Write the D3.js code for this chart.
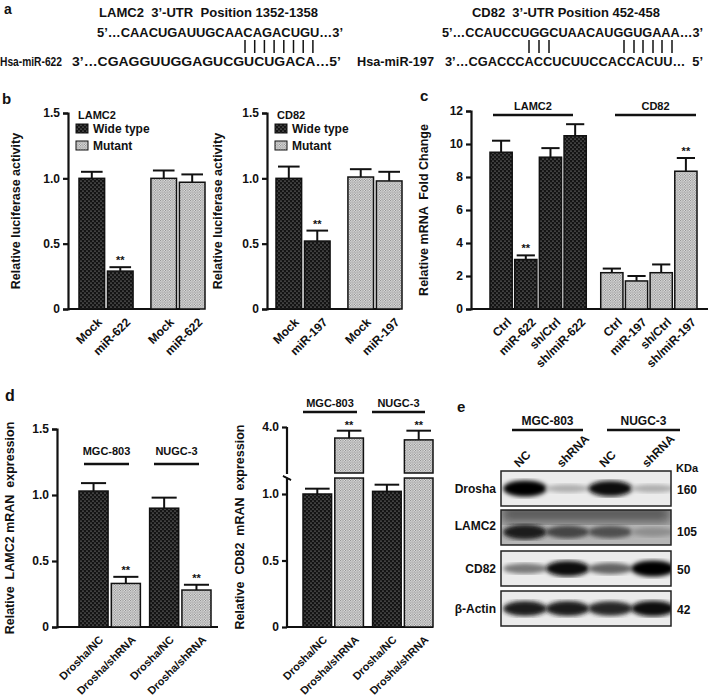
<!DOCTYPE html>
<html><head><meta charset="utf-8">
<script src="https://cdn.jsdelivr.net/npm/d3@7"></script>
<style>body{margin:0;background:#fff}text{font-family:"Liberation Sans",Arial,sans-serif;font-weight:bold;fill:#111}</style>
</head><body><svg id="s" width="711" height="698"></svg>
<script>
// ---- data ----
const bCats1=["Mock","miR-622","Mock","miR-622"];
const bVals1=[1.0,0.29,1.0,0.97];
const bErr1=[0.05,0.03,0.06,0.06];
const bCats2=["Mock","miR-197","Mock","miR-197"];
const bVals2=[1.0,0.52,1.01,0.98];
const bErr2=[0.09,0.08,0.06,0.07];
const bTypes=["wt","wt","mut","mut"];
const bSig=[false,true,false,false];
const bTicks=[0,0.5,1.0,1.5];
const cCats=["Ctrl","miR-622","sh/Ctrl","sh/miR-622","Ctrl","miR-197","sh/Ctrl","sh/miR-197"];
const cVals=[9.5,3.0,9.2,10.5,2.2,1.7,2.2,8.35];
const cErr=[0.7,0.25,0.55,0.7,0.25,0.3,0.5,0.8];
const cTypes=["wt","wt","wt","wt","mut","mut","mut","mut"];
const cTicks=[0,2,4,6,8,10,12];
const cSig=[false,true,false,false,false,false,false,true];
const dCats=["Drosha/NC","Drosha/shRNA","Drosha/NC","Drosha/shRNA"];
const dVals1=[1.03,0.33,0.9,0.28];
const dErr1=[0.06,0.05,0.08,0.04];
const dVals2=[1.0,3.4,1.02,3.3];
const dErr2=[0.04,0.4,0.05,0.5];
const dTypes=["wt","mut","wt","mut"];
const dTicks1=[0,0.5,1.0,1.5];
const dTicks2=[0,0.5,1.0];
const dSig=[false,true,false,true];
const eRows=["Drosha","LAMC2","CD82","β-Actin"];
const eKDa=["160","105","50","42"];
const eLanes=["NC","shRNA","NC","shRNA"];
const eBand=[[1.0,0.2,0.95,0.2],[0.9,0.7,0.65,0.35],[0.45,0.95,0.55,1.0],[0.9,0.9,0.85,0.95]];
const eBg=[0.05,0.45,0.05,0.05];

const svg=d3.select("#s");
const defs=svg.append("defs");
function pat(id,bg,dot,step){const p=defs.append("pattern").attr("id",id).attr("width",step).attr("height",step).attr("patternUnits","userSpaceOnUse");
p.append("rect").attr("width",step).attr("height",step).attr("fill",bg);
p.append("circle").attr("cx",step/4).attr("cy",step/4).attr("r",0.6).attr("fill",dot);
p.append("circle").attr("cx",3*step/4).attr("cy",3*step/4).attr("r",0.6).attr("fill",dot);}
pat("wt","#141414","#bbb",4);pat("mut","#e4e4e4","#777",2.5);
defs.append("filter").attr("id","blur").append("feGaussianBlur").attr("stdDeviation",2.2);
defs.append("filter").attr("id","blur2").append("feGaussianBlur").attr("stdDeviation",6);

function txt(x,y,s,size,anchor){return svg.append("text").attr("x",x).attr("y",y).attr("font-size",size||12).attr("text-anchor",anchor||"start").text(s);}
function fit(x,y,s,size,len){return svg.append("text").attr("x",x).attr("y",y).attr("font-size",size).attr("textLength",len).attr("lengthAdjust","spacingAndGlyphs").attr("xml:space","preserve").text(s);}

function chart(o){
  const g=svg.append("g");
  const x=d3.scaleBand().domain(d3.range(o.cats.length)).range([o.x0,o.x1]).paddingInner(0.1);
  const y=d3.scaleLinear().domain(o.dom).range([o.yb,o.yt]);
  const ya=d3.axisLeft(y).tickValues(o.ticks).tickFormat(o.fmt).tickSize(5);
  const ag=g.append("g").attr("transform",`translate(${o.ax},0)`).call(ya);
  ag.selectAll("path,line").attr("stroke","#111").attr("stroke-width",2.2);
  ag.selectAll("text").attr("font-size",12).attr("font-weight","bold").attr("fill","#111").attr("font-family","Liberation Sans");
  g.append("line").attr("x1",o.ax).attr("x2",o.xend).attr("y1",o.yb).attr("y2",o.yb).attr("stroke","#111").attr("stroke-width",2.2);
  o.cats.forEach((c,i)=>{
    const bx=x(i)+(o.xoff?o.xoff[i]:0),bw=x.bandwidth(),v=o.vals[i],e=o.err[i];
    g.append("line").attr("x1",bx+bw/2).attr("x2",bx+bw/2).attr("y1",y(v)).attr("y2",y(v+e)).attr("stroke","#111").attr("stroke-width",2);
    g.append("line").attr("x1",bx+2).attr("x2",bx+bw-2).attr("y1",y(v+e)).attr("y2",y(v+e)).attr("stroke","#111").attr("stroke-width",2);
    g.append("rect").attr("x",bx).attr("y",y(v)).attr("width",bw).attr("height",o.yb-y(v)).attr("fill",`url(#${o.types[i]})`).attr("stroke","#111").attr("stroke-width",1.5);
    if(o.sig&&o.sig[i]) txt(bx+bw/2,y(v+e)-3,"**",11,"middle");
    svg.append("text").attr("transform",`translate(${bx+bw/2+5},${o.yb+8}) rotate(-45)`).attr("text-anchor","end").attr("dy","0.7em").attr("font-size",o.fs||12).text(c);
  });
  svg.append("text").attr("transform",`translate(${o.lx},${(o.yt+o.yb)/2}) rotate(-90)`).attr("text-anchor","middle").attr("font-size",12.5).text(o.label).attr("xml:space","preserve");
  return {x,y};
}
const f1=d=>d===0?"0":d3.format(".1f")(d);

// ---- panel a ----
txt(4,14,"a",14);
fit(99,17,"LAMC2  3’-UTR  Position 1352-1358",13,219);
fit(97,37,"5’…CAACUGAUUGCAACAGACUGU…3’",13,246);
fit(0,66,"Hsa-miR-622",12,62);
fit(72,66,"3’…CGAGGUUGGAGUCGUCUGACA…5’",13,269);
d3.range(8).forEach(i=>svg.append("line").attr("x1",245+i*9.7).attr("x2",245+i*9.7).attr("y1",40).attr("y2",53).attr("stroke","#111").attr("stroke-width",1.5));
fit(472,17,"CD82  3’-UTR Position 452-458",13,188);
fit(442,37,"5’…CCAUCCUGGCUAACAUGGUGAAA…3’",13,261);
fit(357,66,"Hsa-miR-197",13,77);
fit(445,66,"3’…CGACCCACCUCUUCCACCACUU…  5’",13,258);
[529,539,549].forEach(v=>svg.append("line").attr("x1",v).attr("x2",v).attr("y1",40).attr("y2",53).attr("stroke","#111").attr("stroke-width",1.5));
[624,634,643,653,662,672].forEach(v=>svg.append("line").attr("x1",v).attr("x2",v).attr("y1",40).attr("y2",53).attr("stroke","#111").attr("stroke-width",1.5));

// ---- panel b ----
txt(2,104,"b",15);
chart({cats:bCats1,vals:bVals1,err:bErr1,types:bTypes,sig:bSig,x0:79,x1:190,xoff:[0,0,15,15],ax:68,xend:200,yb:309,yt:113,dom:[0,1.5],ticks:bTicks,fmt:f1,lx:20,label:"Relative luciferase activity"});
chart({cats:bCats2,vals:bVals2,err:bErr2,types:bTypes,sig:bSig,x0:276,x1:387,xoff:[0,0,15,15],ax:267,xend:400,yb:309,yt:113,dom:[0,1.5],ticks:bTicks,fmt:f1,lx:222,label:"Relative luciferase activity"});
[[78,"LAMC2"],[277,"CD82"]].forEach(([lx,t])=>{
  txt(lx,119,t,11);
  svg.append("rect").attr("x",lx-2).attr("y",124).attr("width",12).attr("height",9).attr("fill","url(#wt)").attr("stroke","#111");
  svg.append("rect").attr("x",lx-2).attr("y",141).attr("width",12).attr("height",9).attr("fill","url(#mut)").attr("stroke","#111");
  txt(lx+15,133,"Wide type",12);txt(lx+15,150,"Mutant",12);
});

// ---- panel c ----
txt(420,101,"c",15);
chart({cats:cCats,vals:cVals,err:cErr,types:cTypes,sig:cSig,x0:490,x1:685,xoff:[0,0,0,0,12,12,12,12],ax:471,xend:708,yb:309,yt:111,dom:[0,12],ticks:cTicks,fmt:d3.format("d"),lx:428,label:"Relative mRNA  Fold Change"});
[[493,573,"LAMC2"],[615,696,"CD82"]].forEach(([a,b,t])=>{
  svg.append("line").attr("x1",a).attr("x2",b).attr("y1",115).attr("y2",115).attr("stroke","#111").attr("stroke-width",2.5);
  txt((a+b)/2,110,t,11,"middle");
});

// ---- panel d ----
txt(5,401,"d",16);
chart({cats:dCats,vals:dVals1,err:dErr1,types:dTypes,sig:dSig,fs:11,x0:79,x1:205,xoff:[0,0,6,6],ax:57,xend:218,yb:627,yt:429,dom:[0,1.5],ticks:dTicks1,fmt:f1,lx:14,label:"Relative  LAMC2 mRAN  expression"});
[[84,129,"MGC-803"],[154,199,"NUGC-3"]].forEach(([a,b,t])=>{
  svg.append("line").attr("x1",a).attr("x2",b).attr("y1",464).attr("y2",464).attr("stroke","#111").attr("stroke-width",2.5);
  txt((a+b)/2,455,t,11,"middle");
});
// broken axis chart
(function(){
  const x=d3.scaleBand().domain(d3.range(4)).range([303,427]).paddingInner(0.1);
  const yL=d3.scaleLinear().domain([0,1.0]).range([627,494]);
  const yU=d3.scaleLinear().domain([1.5,4.0]).range([473,427]);
  const g=svg.append("g");
  const a1=g.append("g").attr("transform","translate(287,0)").call(d3.axisLeft(yL).tickValues(dTicks2).tickFormat(f1).tickSize(5));
  const a2=g.append("g").attr("transform","translate(287,0)").call(d3.axisLeft(yU).tickValues([4.0]).tickFormat(d3.format(".1f")).tickSize(5));
  [a1,a2].forEach(a=>{a.select("path").remove();a.selectAll("line").attr("stroke","#111").attr("stroke-width",2.2);a.selectAll("text").attr("font-size",12).attr("font-weight","bold").attr("fill","#111").attr("font-family","Liberation Sans");});
  g.append("line").attr("x1",287).attr("x2",287).attr("y1",627).attr("y2",yL(1.12)).attr("stroke","#111").attr("stroke-width",2.2);
  g.append("line").attr("x1",287).attr("x2",287).attr("y1",474).attr("y2",427).attr("stroke","#111").attr("stroke-width",2.2);
  g.append("line").attr("x1",283).attr("x2",291).attr("y1",yL(1.12)-2).attr("y2",yL(1.12)+2).attr("stroke","#111").attr("stroke-width",1.5);
  g.append("line").attr("x1",283).attr("x2",291).attr("y1",476).attr("y2",480).attr("stroke","#111").attr("stroke-width",1.5);
  g.append("line").attr("x1",287).attr("x2",433).attr("y1",627).attr("y2",627).attr("stroke","#111").attr("stroke-width",2.2);
  dCats.forEach((c,i)=>{
    const bx=x(i)+(i>1?6:0),bw=x.bandwidth(),v=dVals2[i],e=dErr2[i],cx=bx+bw/2;
    if(v>1.5){
      const yt=yU(v+e);
      g.append("line").attr("x1",cx).attr("x2",cx).attr("y1",yU(v)).attr("y2",yt).attr("stroke","#111").attr("stroke-width",2);
      g.append("line").attr("x1",bx+2).attr("x2",bx+bw-2).attr("y1",yt).attr("y2",yt).attr("stroke","#111").attr("stroke-width",2);
      g.append("rect").attr("x",bx).attr("y",yU(v)).attr("width",bw).attr("height",yU(1.5)-yU(v)).attr("fill","url(#mut)").attr("stroke","#111").attr("stroke-width",1.5);
      g.append("rect").attr("x",bx).attr("y",yL(1.12)).attr("width",bw).attr("height",627-yL(1.12)).attr("fill","url(#mut)").attr("stroke","#111").attr("stroke-width",1.5);
      txt(cx,yt-2,"**",11,"middle");
    } else {
      g.append("line").attr("x1",cx).attr("x2",cx).attr("y1",yL(v)).attr("y2",yL(v+e)).attr("stroke","#111").attr("stroke-width",2);
      g.append("line").attr("x1",bx+2).attr("x2",bx+bw-2).attr("y1",yL(v+e)).attr("y2",yL(v+e)).attr("stroke","#111").attr("stroke-width",2);
      g.append("rect").attr("x",bx).attr("y",yL(v)).attr("width",bw).attr("height",627-yL(v)).attr("fill","url(#wt)").attr("stroke","#111").attr("stroke-width",1.5);
    }
    svg.append("text").attr("transform",`translate(${cx+5},635) rotate(-45)`).attr("text-anchor","end").attr("dy","0.7em").attr("font-size",11).text(c);
  });
  svg.append("text").attr("transform",`translate(244,527) rotate(-90)`).attr("text-anchor","middle").attr("font-size",12.5).attr("xml:space","preserve").text("Relative  CD82  mRAN  expression");
  [[303,357,"MGC-803"],[372,425,"NUGC-3"]].forEach(([a,b,t])=>{
    svg.append("line").attr("x1",a).attr("x2",b).attr("y1",412).attr("y2",412).attr("stroke","#111").attr("stroke-width",2.5);
    txt((a+b)/2,407,t,11,"middle");
  });
})();

// ---- panel e ----
txt(457,412,"e",15);
const lx=d3.scalePoint().domain(d3.range(4)).range([525,653]);
const rowY=[471,510,551,591],rowH=35;
[[512,583,"MGC-803"],[607,680,"NUGC-3"]].forEach(([a,b,t])=>{
  svg.append("line").attr("x1",a).attr("x2",b).attr("y1",430).attr("y2",430).attr("stroke","#111").attr("stroke-width",2.5);
  txt((a+b)/2,425,t,12,"middle");
});
eLanes.forEach((l,i)=>svg.append("text").attr("transform",`translate(${lx(i)-6},${468}) rotate(-45)`).attr("text-anchor","start").attr("font-size",12).text(l));
txt(676,472,"KDa",11);
eRows.forEach((r,j)=>{
  const gy=rowY[j];
  const g=svg.append("g");
  const cp=defs.append("clipPath").attr("id","cp"+j);cp.append("rect").attr("x",501).attr("y",gy).attr("width",170).attr("height",rowH);
  const inner=g.append("g").attr("clip-path",`url(#cp${j})`);
  inner.append("rect").attr("x",501).attr("y",gy).attr("width",170).attr("height",rowH).attr("fill",d3.interpolateRgb("#f2f2f2","#6a6a6a")(eBg[j]));
  if(eBg[j]>0.2) inner.append("rect").attr("x",501).attr("y",gy-5).attr("width",170).attr("height",rowH/2).attr("fill","#555").attr("filter","url(#blur2)");
  const by=gy+(j===1?22:rowH/2);
  eBand[j].forEach((v,i)=>{
    inner.append("ellipse").attr("cx",lx(i)).attr("cy",by).attr("rx",22).attr("ry",3+5*v).attr("fill",d3.interpolateRgb("#d8d8d8","#050505")(v)).attr("filter","url(#blur)");
  });
  g.append("rect").attr("x",501).attr("y",gy).attr("width",170).attr("height",rowH).attr("fill","none").attr("stroke","#222").attr("stroke-width",1.5);
  txt(496,gy+rowH/2+(j===1?2:4),r,12,"end");
  txt(677,gy+(j===1?26:rowH/2+5),eKDa[j],12);
});
</script></body></html>
